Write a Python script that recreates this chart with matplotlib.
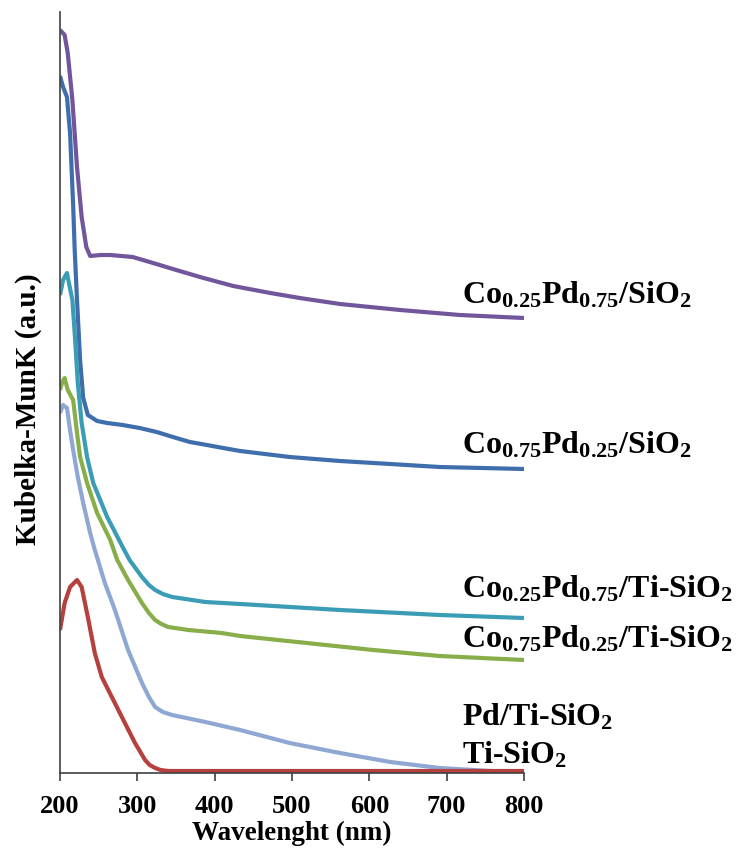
import matplotlib
matplotlib.use("Agg")
import matplotlib.pyplot as plt

plt.rcParams['font.family'] = ['Liberation Serif', 'DejaVu Serif']
plt.rcParams['font.weight'] = 'bold'
plt.rcParams['mathtext.fontset'] = 'custom'
plt.rcParams['mathtext.rm'] = 'Liberation Serif:bold'
plt.rcParams['mathtext.it'] = 'Liberation Serif:bold'
plt.rcParams['mathtext.bf'] = 'Liberation Serif:bold'

# ---- data (wavelength in nm, Kubelka-Munk in a.u.) ----
wl_co25_sio2 = [200, 206, 210, 216, 222, 228, 234, 239, 252, 265, 294, 316, 346, 381, 424, 472, 510, 562, 640, 717, 800]
km_co25_sio2 = [7.43, 7.38, 7.20, 6.73, 6.06, 5.56, 5.26, 5.17, 5.18, 5.18, 5.16, 5.11, 5.04, 4.96, 4.87, 4.80, 4.75, 4.69, 4.63, 4.58, 4.55]

wl_co75_sio2 = [200, 204, 209, 213, 217, 219, 222, 226, 230, 236, 248, 261, 281, 303, 325, 346, 368, 390, 411, 433, 497, 562, 627, 691, 800]
km_co75_sio2 = [6.97, 6.86, 6.76, 6.40, 5.68, 5.23, 4.73, 4.13, 3.75, 3.58, 3.52, 3.50, 3.48, 3.45, 3.41, 3.36, 3.31, 3.28, 3.25, 3.22, 3.16, 3.12, 3.09, 3.06, 3.04]

wl_co25_ti = [200, 204, 209, 210, 216, 219, 223, 228, 235, 243, 261, 281, 290, 306, 315, 323, 333, 345, 388, 433, 562, 691, 800]
km_co25_ti = [4.78, 4.93, 5.00, 4.96, 4.73, 4.40, 3.90, 3.50, 3.16, 2.90, 2.56, 2.26, 2.13, 1.96, 1.88, 1.83, 1.79, 1.76, 1.71, 1.69, 1.63, 1.58, 1.55]

wl_co75_ti = [200, 203, 206, 210, 217, 222, 226, 235, 248, 265, 274, 288, 306, 315, 323, 331, 340, 366, 409, 433, 519, 605, 691, 800]
km_co75_ti = [3.83, 3.91, 3.95, 3.83, 3.73, 3.40, 3.16, 2.90, 2.60, 2.33, 2.13, 1.93, 1.70, 1.60, 1.53, 1.49, 1.46, 1.43, 1.40, 1.37, 1.30, 1.23, 1.17, 1.13]

wl_pd_ti = [200, 204, 209, 213, 217, 223, 230, 239, 245, 249, 258, 271, 288, 306, 315, 323, 333, 345, 388, 433, 497, 562, 627, 691, 756, 800]
km_pd_ti = [3.60, 3.68, 3.65, 3.43, 3.23, 2.96, 2.70, 2.40, 2.23, 2.13, 1.90, 1.63, 1.23, 0.90, 0.76, 0.66, 0.61, 0.58, 0.51, 0.43, 0.30, 0.20, 0.11, 0.05, 0.02, 0.01]

wl_ti = [200, 206, 213, 222, 228, 236, 245, 254, 267, 280, 297, 310, 316, 323, 330, 340, 366, 800]
km_ti = [1.43, 1.70, 1.86, 1.93, 1.86, 1.56, 1.20, 0.96, 0.76, 0.56, 0.30, 0.13, 0.08, 0.05, 0.03, 0.02, 0.02, 0.02]

x_ticks = [200, 300, 400, 500, 600, 700, 800]

series = [
    (wl_co25_sio2, km_co25_sio2, '#71569B'),
    (wl_co75_sio2, km_co75_sio2, '#3F6EAC'),
    (wl_co25_ti, km_co25_ti, '#3A9DB5'),
    (wl_co75_ti, km_co75_ti, '#88AE4A'),
    (wl_pd_ti, km_pd_ti, '#8FA8D3'),
    (wl_ti, km_ti, '#B5403D'),
]

labels = [
    ('Co$_{0.25}$Pd$_{0.75}$/SiO$_{2}$', 303),
    ('Co$_{0.75}$Pd$_{0.25}$/SiO$_{2}$', 453),
    ('Co$_{0.25}$Pd$_{0.75}$/Ti-SiO$_{2}$', 598),
    ('Co$_{0.75}$Pd$_{0.25}$/Ti-SiO$_{2}$', 647),
    ('Pd/Ti-SiO$_{2}$', 725),
    ('Ti-SiO$_{2}$', 763),
]

W, H = 740, 851
fig = plt.figure(figsize=(W / 100, H / 100), dpi=100)
ax = fig.add_axes([60 / W, 1 - 773 / H, (524 - 60) / W, (773 - 12) / H])

for x, y, c in series:
    ax.plot(x, y, color=c, lw=3, solid_capstyle='butt', solid_joinstyle='round')

ax.set_xlim(200, 800)
ax.set_ylim(0, 7.61)
ax.set_xticks(x_ticks)
ax.set_xticklabels([str(t) for t in x_ticks], fontsize=19, fontweight='bold')
ax.set_yticks([])
ax.tick_params(axis='x', direction='out', length=6, width=1.2, color='#404040', pad=10)
for s in ['top', 'right']:
    ax.spines[s].set_visible(False)
for s in ['left', 'bottom']:
    ax.spines[s].set_color('#404040')
    ax.spines[s].set_linewidth(1.2)

ax.set_xlabel('Wavelenght (nm)', fontsize=19.5, fontweight='bold', labelpad=2)
fig.text(28 / W, 1 - 409 / H, 'Kubelka-MunK (a.u.)', fontsize=21, fontweight='bold',
         rotation=90, ha='center', va='center')

for txt, yb in labels:
    fig.text(462 / W, 1 - yb / H, txt, fontsize=23, fontweight='bold',
             ha='left', va='baseline', color='black')

fig.savefig('out.png', dpi=100)
